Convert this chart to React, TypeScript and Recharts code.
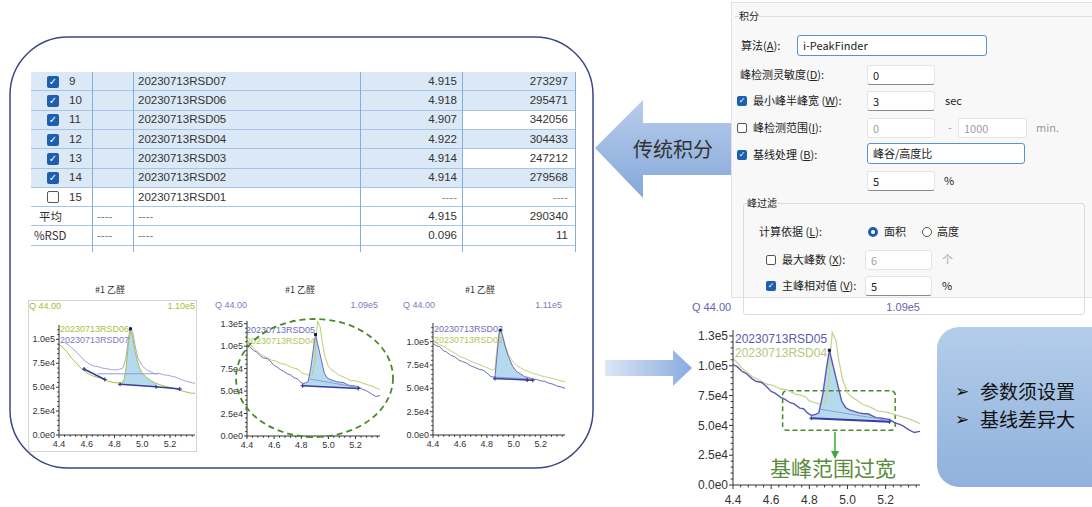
import React from 'react';
import { ComposedChart, Line, Area, XAxis, YAxis, ReferenceArea } from 'recharts';

const FONT = '"Liberation Sans", "Noto Sans CJK SC", sans-serif';
const CJK = '"Noto Sans CJK SC", "Liberation Sans", sans-serif';

// retention time axis ticks (minor every 0.04, labelled every 0.2)
const xTicks = [4.4, 4.44, 4.48, 4.52, 4.56, 4.6, 4.64, 4.68, 4.72, 4.76, 4.8, 4.84, 4.88, 4.92, 4.96, 5.0, 5.04, 5.08, 5.12, 5.16, 5.2, 5.24, 5.28, 5.32, 5.36];
const xLabels = [4.4, 4.6, 4.8, 5.0, 5.2];
const yTicks115 = [0, 5000, 10000, 15000, 20000, 25000, 30000, 35000, 40000, 45000, 50000, 55000, 60000, 65000, 70000, 75000, 80000, 85000, 90000, 95000, 100000, 105000, 110000];
const yTicks120 = [...yTicks115, 115000];
const yTicks130 = [...yTicks120, 120000, 125000];
const yLabels100 = [0, 25000, 50000, 75000, 100000];
const yLabels125 = [0, 25000, 50000, 75000, 100000, 125000];

// chart 1: RSD06 / RSD07
const rt06 = [4.4, 4.43, 4.46, 4.49, 4.52, 4.55, 4.58, 4.61, 4.64, 4.67, 4.7, 4.73, 4.76, 4.79, 4.82, 4.85, 4.87, 4.885, 4.9, 4.915, 4.93, 4.945, 4.96, 4.98, 5.0, 5.03, 5.06, 5.09, 5.12, 5.15, 5.18, 5.21, 5.24, 5.27, 5.3, 5.33, 5.36, 5.38];
const in06 = [95000, 91000, 86500, 80500, 76000, 71000, 67500, 64000, 62000, 60500, 59500, 57500, 56000, 55000, 54500, 54000, 58500, 72000, 95000, 110000, 103000, 90000, 80000, 70000, 64500, 60500, 57000, 54500, 53000, 51500, 50500, 49500, 48500, 47000, 45500, 44500, 43500, 44000];
const rt07 = [4.44, 4.47, 4.5, 4.53, 4.56, 4.59, 4.62, 4.65, 4.68, 4.71, 4.74, 4.77, 4.8, 4.83, 4.86, 4.88, 4.9, 4.913, 4.93, 4.95, 4.97, 5.0, 5.03, 5.06, 5.09, 5.12, 5.15, 5.18, 5.21, 5.24, 5.27, 5.3, 5.33, 5.36, 5.38];
const in07 = [97000, 94000, 90000, 86000, 81500, 77000, 74000, 72000, 71500, 70000, 69500, 68500, 68000, 68500, 70000, 79000, 100000, 113000, 108000, 92000, 80000, 72000, 68500, 66000, 64000, 64500, 63000, 62500, 61500, 60500, 58500, 57000, 55500, 54500, 54000];
const base06aRt = [4.58, 4.73];
const base06aIn = [69000, 58000];
const base06bRt = [4.84, 5.1, 5.27];
const base06bIn = [53000, 50500, 48000];
const base07Rt = [4.68, 5.12];
const base07In = [64000, 64000];
const fill06Rt = [4.85, 4.87, 4.885, 4.9, 4.915, 4.93, 4.945, 4.96, 4.98, 5.0, 5.03, 5.06, 5.09, 5.1];
const fill06Hi = [54000, 58500, 72000, 95000, 110000, 103000, 90000, 80000, 70000, 64500, 60500, 57000, 54500, 53500];
const fill06Lo = [52900, 52700, 52500, 52400, 52200, 52000, 51900, 51700, 51500, 51300, 51000, 50800, 50600, 50500];

// chart 2 and zoomed chart: RSD05 / RSD04
const rt05 = [4.4, 4.42, 4.45, 4.47, 4.5, 4.52, 4.55, 4.57, 4.6, 4.62, 4.65, 4.67, 4.7, 4.72, 4.75, 4.77, 4.79, 4.81, 4.83, 4.85, 4.87, 4.89, 4.905, 4.92, 4.945, 4.97, 4.99, 5.01, 5.04, 5.06, 5.08, 5.11, 5.13, 5.15, 5.18, 5.2, 5.22, 5.25, 5.27, 5.29, 5.32, 5.35, 5.38];
const in05 = [101000, 99500, 95000, 93500, 89000, 87000, 86000, 83500, 78500, 77000, 73500, 72000, 69000, 68000, 64500, 64000, 60500, 58500, 59000, 60500, 75500, 98000, 113000, 103000, 86500, 70000, 65000, 63000, 61500, 60500, 60000, 59500, 58000, 56500, 56000, 55500, 55000, 52000, 51000, 49500, 46500, 44000, 45000];
const rt04 = [4.4, 4.42, 4.44, 4.47, 4.5, 4.52, 4.55, 4.58, 4.6, 4.63, 4.65, 4.68, 4.7, 4.73, 4.75, 4.78, 4.8, 4.83, 4.86, 4.88, 4.9, 4.91, 4.92, 4.94, 4.955, 4.975, 5.0, 5.02, 5.05, 5.08, 5.1, 5.13, 5.16, 5.19, 5.21, 5.24, 5.27, 5.3, 5.33, 5.36, 5.38];
const in04 = [106000, 103000, 99000, 95000, 91000, 89500, 87000, 84500, 84000, 82000, 80500, 80000, 78500, 76000, 75500, 74000, 70500, 69000, 67500, 68000, 82000, 110000, 128000, 121000, 104000, 88000, 77500, 74000, 71000, 67500, 66500, 64500, 62000, 61500, 61000, 59500, 58000, 56500, 55000, 53000, 51500];
const base05Rt = [4.81, 5.22];
const base05In = [56000, 53000];
const base05LightRt = [4.86, 5.2];
const base05LightIn = [63500, 54500];
const fill05Rt = [4.81, 4.83, 4.85, 4.87, 4.89, 4.905, 4.92, 4.945, 4.97, 4.99, 5.01, 5.04, 5.06, 5.08, 5.11, 5.13, 5.15, 5.18, 5.2, 5.22];
const fill05Hi = [58500, 59000, 60500, 75500, 98000, 113000, 103000, 86500, 70000, 65000, 63000, 61500, 60500, 60000, 59500, 58000, 56500, 56000, 55500, 55000];
const fill05Lo = [56000, 55850, 55700, 55550, 55400, 55300, 55150, 55000, 54750, 54600, 54450, 54250, 54100, 53950, 53700, 53550, 53400, 53200, 53050, 53000];

// chart 3: RSD03 / RSD02
const rt03 = [4.4, 4.42, 4.45, 4.48, 4.5, 4.53, 4.56, 4.59, 4.62, 4.65, 4.68, 4.71, 4.74, 4.77, 4.8, 4.83, 4.86, 4.875, 4.89, 4.9, 4.915, 4.935, 4.96, 4.99, 5.02, 5.05, 5.08, 5.11, 5.14, 5.17, 5.2, 5.23, 5.26, 5.29, 5.32, 5.35, 5.38];
const in03 = [98000, 96000, 94500, 90000, 89000, 85500, 84000, 80500, 78500, 77000, 74000, 72500, 70500, 69500, 66500, 62500, 62000, 85000, 108000, 112000, 107000, 95000, 84000, 74000, 68000, 65500, 62500, 61500, 60000, 59500, 58000, 57500, 55500, 54500, 52500, 51500, 50000];
const rt02 = [4.4, 4.42, 4.45, 4.48, 4.51, 4.54, 4.57, 4.6, 4.63, 4.66, 4.69, 4.72, 4.75, 4.78, 4.81, 4.84, 4.86, 4.875, 4.89, 4.9, 4.915, 4.935, 4.96, 4.99, 5.02, 5.05, 5.08, 5.11, 5.14, 5.17, 5.2, 5.23, 5.26, 5.29, 5.32, 5.35, 5.38];
const in02 = [102000, 99000, 96500, 95000, 92000, 89500, 87000, 84000, 82500, 80500, 78500, 77000, 75000, 73500, 71500, 69500, 71000, 92000, 110000, 114000, 108000, 97000, 86000, 79000, 74500, 72000, 69500, 68000, 66000, 65000, 63500, 62500, 61500, 60500, 59500, 58000, 57000];
const base03Rt = [4.86, 5.1, 5.14];
const base03In = [60500, 59000, 58700];
const base03LightRt = [4.87, 5.13];
const base03LightIn = [62000, 60000];
const fill03Rt = [4.86, 4.875, 4.89, 4.9, 4.915, 4.935, 4.96, 4.99, 5.02, 5.05, 5.08, 5.1];
const fill03Hi = [62000, 85000, 108000, 112000, 107000, 95000, 84000, 74000, 68000, 65500, 62500, 62000];
const fill03Lo = [60500, 60400, 60300, 60250, 60150, 60000, 59850, 59650, 59450, 59300, 59100, 59000];

// peak apex
const apex06Rt = [4.915];
const apex06In = [111000];
const apex05Rt = [4.905];
const apex05In = [113000];
const apex03Rt = [4.9];
const apex03In = [112000];

// result table
const rowNo = ['9', '10', '11', '12', '13', '14', '15', '平均', '%RSD'];
const rowName = ['20230713RSD07', '20230713RSD06', '20230713RSD05', '20230713RSD04', '20230713RSD03', '20230713RSD02', '20230713RSD01', '----', '----'];
const rowRt = ['4.915', '4.918', '4.907', '4.922', '4.914', '4.914', '----', '4.915', '0.096'];
const rowArea = ['273297', '295471', '342056', '304433', '247212', '279568', '----', '290340', '11'];

const pts = (xs: number[], ys: number[]) => xs.map((x, i) => ({ x, y: ys[i] }));
const band = (xs: number[], lo: number[], hi: number[]) => xs.map((x, i) => ({ x, r: [lo[i], hi[i]] }));
const isIn = (arr: number[], v: number) => arr.some((m) => Math.abs(m - v) < 1e-6 * Math.max(1, Math.abs(m)));
const fmtY = (v: number) => (v === 0 ? '0.0e0' : v.toExponential(1).replace('+', ''));

const BASE = '#383c9a';
const BASE_LIGHT = '#8e9be0';

interface Trace {
  data: { x: number; y: number }[];
  color: string;
  width: number;
  marks?: boolean;
}

interface ChromProps {
  left: number;
  top: number;
  width: number;
  height: number;
  yAxisWidth: number;
  xAxisHeight: number;
  marginTop: number;
  marginRight: number;
  yMax: number;
  yTicks: number[];
  yLabels: number[];
  fs: number;
  tickLen: number;
  xLabelGap?: number;
  traces: Trace[];
  fill: { x: number; r: number[] }[];
  apex: { x: number; y: number }[];
  children?: React.ReactNode;
}

function Chrom(p: ChromProps) {
  const gap = p.xLabelGap ?? 0;
  const xTick = (t: any) => {
    const v = t.payload.value;
    const major = isIn(xLabels, v);
    const l = major ? p.tickLen : p.tickLen * 0.6;
    return (
      <g>
        <line x1={t.x} x2={t.x} y1={t.y} y2={t.y + l} stroke="#333" />
        {major && (
          <text x={t.x} y={t.y + p.tickLen + p.fs + gap} textAnchor="middle" fontSize={p.fs} fill="#333" fontFamily={FONT}>
            {v.toFixed(1)}
          </text>
        )}
      </g>
    );
  };
  const yTick = (t: any) => {
    const v = t.payload.value;
    const major = isIn(p.yLabels, v);
    const l = major ? p.tickLen : p.tickLen * 0.6;
    return (
      <g>
        <line x1={t.x - l} x2={t.x} y1={t.y} y2={t.y} stroke="#333" />
        {major && (
          <text x={t.x - p.tickLen - 1} y={t.y} dy="0.35em" textAnchor="end" fontSize={p.fs} fill="#333" fontFamily={FONT}>
            {fmtY(v)}
          </text>
        )}
      </g>
    );
  };
  const cross = (color: string) => (d: any) => (
    <path key={`c${d.index}`} d={`M${d.cx - 2},${d.cy}h4M${d.cx},${d.cy - 2}v4`} stroke={color} strokeWidth={1.2} />
  );
  const square = (d: any) => <rect key={`s${d.index}`} x={d.cx - 1.5} y={d.cy - 1.5} width={3} height={3} fill="#1b1b3a" />;
  return (
    <div style={{ position: 'absolute', left: p.left, top: p.top }}>
      <ComposedChart width={p.width} height={p.height} margin={{ top: p.marginTop, right: p.marginRight, bottom: 0, left: 0 }}>
        <XAxis
          type="number"
          dataKey="x"
          domain={[4.4, 5.38]}
          ticks={xTicks}
          interval={0}
          allowDataOverflow
          tickSize={0}
          tickMargin={0}
          tickLine={false}
          axisLine={{ stroke: '#333' }}
          height={p.xAxisHeight}
          tick={xTick}
        />
        <YAxis
          type="number"
          domain={[0, p.yMax]}
          ticks={p.yTicks}
          interval={0}
          allowDataOverflow
          width={p.yAxisWidth}
          tickSize={0}
          tickMargin={0}
          tickLine={false}
          axisLine={{ stroke: '#333' }}
          tick={yTick}
        />
        <Area data={p.fill} dataKey="r" type="linear" stroke="none" fill="#a3d1ea" fillOpacity={0.8} isAnimationActive={false} />
        {p.traces.map((t, i) => (
          <Line
            key={i}
            data={t.data}
            dataKey="y"
            type="linear"
            stroke={t.color}
            strokeWidth={t.width}
            dot={t.marks ? cross(t.color) : false}
            activeDot={false}
            isAnimationActive={false}
          />
        ))}
        <Line data={p.apex} dataKey="y" stroke="none" dot={square} activeDot={false} isAnimationActive={false} />
        {p.children}
      </ComposedChart>
    </div>
  );
}

function T(props: { x: number; y: number; size?: number; color?: string; anchor?: 'left' | 'right' | 'center'; family?: string; bg?: string; children: React.ReactNode }) {
  const size = props.size ?? 11;
  const shift = props.anchor === 'right' ? 'translateX(-100%)' : props.anchor === 'center' ? 'translateX(-50%)' : 'none';
  return (
    <div
      style={{
        position: 'absolute',
        left: props.x,
        top: props.y - size * 0.6,
        fontSize: size,
        lineHeight: `${size * 1.2}px`,
        color: props.color ?? '#222',
        whiteSpace: 'nowrap',
        fontFamily: props.family ?? CJK,
        transform: shift,
        background: props.bg,
      }}
    >
      {props.children}
    </div>
  );
}

function Check({ x, y, on, size = 10 }: { x: number; y: number; on: boolean; size?: number }) {
  return (
    <div
      style={{
        position: 'absolute',
        left: x,
        top: y - size / 2,
        width: size,
        height: size,
        boxSizing: 'border-box',
        borderRadius: 2,
        background: on ? '#1d5fae' : '#fff',
        border: on ? 'none' : '1px solid #555',
        color: '#fff',
        fontSize: size - 2,
        lineHeight: `${size}px`,
        textAlign: 'center',
        fontFamily: '"DejaVu Sans", sans-serif',
      }}
    >
      {on ? '✓' : ''}
    </div>
  );
}

function Inp({ x, y, w, h = 20, text, focus, dim }: { x: number; y: number; w: number; h?: number; text: string; focus?: boolean; dim?: boolean }) {
  return (
    <div
      style={{
        position: 'absolute',
        left: x,
        top: y,
        width: w,
        height: h,
        boxSizing: 'border-box',
        background: '#fff',
        border: focus ? '1px solid #5592d6' : '1px solid #e4e4e4',
        borderBottom: focus ? '1px solid #5592d6' : dim ? '1px solid #e4e4e4' : '1px solid #8a8a8a',
        borderRadius: 3,
        paddingLeft: 5,
        fontSize: 11,
        lineHeight: `${h - 2}px`,
        color: dim ? '#a0a0a0' : '#222',
        fontFamily: CJK,
        whiteSpace: 'nowrap',
      }}
    >
      {text}
    </div>
  );
}

function Radio({ x, y, on }: { x: number; y: number; on: boolean }) {
  return (
    <div
      style={{
        position: 'absolute',
        left: x,
        top: y - 5,
        width: 10,
        height: 10,
        boxSizing: 'border-box',
        borderRadius: '50%',
        border: on ? '3px solid #1d5fae' : '1px solid #555',
        background: '#fff',
      }}
    />
  );
}

function Panel() {
  const bg = '#f8f8f8';
  return (
    <>
      <div style={{ position: 'absolute', left: 731, top: 2, width: 370, height: 296, background: bg, border: '1px solid #e2e2e2', boxSizing: 'border-box' }} />
      <div style={{ position: 'absolute', left: 735, top: 16, width: 357, height: 1, background: '#dcdcdc' }} />
      <T x={739} y={16} size={10} bg={bg}>积分</T>
      <T x={741} y={46}>算法(<u>A</u>):</T>
      <Inp x={797} y={35} w={190} h={21} text="i-PeakFinder" focus />
      <T x={740} y={75}>峰检测灵敏度(<u>D</u>):</T>
      <Inp x={867} y={65} w={68} text="0" />
      <Check x={737} y={101} on />
      <T x={753} y={101}>最小峰半峰宽 (<u>W</u>):</T>
      <Inp x={867} y={91} w={68} text="3" />
      <T x={945} y={101}>sec</T>
      <Check x={737} y={128} on={false} />
      <T x={753} y={128}>峰检测范围(<u>I</u>):</T>
      <Inp x={867} y={118} w={68} text="0" dim />
      <T x={948} y={128} color="#999">-</T>
      <Inp x={958} y={118} w={69} text="1000" dim />
      <T x={1036} y={128} color="#999">min.</T>
      <Check x={737} y={155} on />
      <T x={753} y={155}>基线处理 (<u>B</u>):</T>
      <Inp x={867} y={143} w={158} h={21} text="峰谷/高度比" focus />
      <Inp x={867} y={171} w={68} text="5" />
      <T x={944} y={181}>%</T>
      <div style={{ position: 'absolute', left: 743, top: 203, width: 340, height: 110, border: '1px solid #dcdcdc', borderRadius: 3 }} />
      <T x={747} y={203} size={10} bg={bg}>峰过滤</T>
      <T x={759} y={232}>计算依据 (<u>L</u>):</T>
      <Radio x={868} y={232} on />
      <T x={884} y={232}>面积</T>
      <Radio x={922} y={232} on={false} />
      <T x={937} y={232}>高度</T>
      <Check x={766} y={260} on={false} />
      <T x={782} y={260}>最大峰数 (<u>X</u>):</T>
      <Inp x={865} y={250} w={67} text="6" dim />
      <T x={942} y={260} color="#aaa">个</T>
      <Check x={766} y={286} on />
      <T x={782} y={286}>主峰相对值 (<u>V</u>):</T>
      <Inp x={865} y={276} w={67} text="5" />
      <T x={942} y={286}>%</T>
    </>
  );
}

function Table() {
  const top = 72;
  const rh = 19.3;
  const cols = [92, 133, 360, 462, 575];
  const fs = 11.5;
  return (
    <>
      {rowNo.map((no, i) => {
        const y = top + i * rh;
        const checked = i < 6;
        const cy = y + rh / 2;
        const lastBlue = checked && i !== 2 && i !== 4;
        return (
          <React.Fragment key={no}>
            {checked && <div style={{ position: 'absolute', left: 31, top: y, width: cols[3] - 31, height: rh, background: '#dbe8f6' }} />}
            {lastBlue && <div style={{ position: 'absolute', left: cols[3], top: y, width: cols[4] - cols[3], height: rh, background: '#dbe8f6' }} />}
            <div style={{ position: 'absolute', left: 31, top: y + rh - 1, width: cols[4] - 31, height: 1, background: '#a6c4e8' }} />
            {i < 7 ? (
              <>
                <Check x={47} y={cy} on={checked} size={12} />
                <T x={69} y={cy} size={fs} color="#333" family={FONT}>{no}</T>
              </>
            ) : (
              <>
                <T x={i === 7 ? 39 : 34} y={cy} size={fs} color="#333">{no}</T>
                <T x={97} y={cy} size={fs} color="#777" family={FONT}>----</T>
              </>
            )}
            <T x={138} y={cy} size={fs} color={i > 6 ? '#777' : '#333'} family={FONT}>{rowName[i]}</T>
            <T x={457} y={cy} size={fs} color={i === 6 ? '#888' : '#333'} anchor="right" family={FONT}>{rowRt[i]}</T>
            <T x={568} y={cy} size={fs} color={i === 6 ? '#888' : '#333'} anchor="right" family={FONT}>{rowArea[i]}</T>
          </React.Fragment>
        );
      })}
      {cols.map((c) => (
        <div key={c} style={{ position: 'absolute', left: c, top, width: 1, height: 180, background: '#86acd9' }} />
      ))}
    </>
  );
}

function Overlay() {
  return (
    <svg width={1092} height={507} style={{ position: 'absolute', left: 0, top: 0, pointerEvents: 'none' }}>
      <defs>
        <linearGradient id="gArrow" x1="0" y1="0" x2="0" y2="1">
          <stop offset="0" stopColor="#b7cdeb" />
          <stop offset="1" stopColor="#85a8d9" />
        </linearGradient>
        <linearGradient id="gArrow2" x1="0" y1="0" x2="1" y2="0">
          <stop offset="0" stopColor="#dce6f5" />
          <stop offset="1" stopColor="#88abdf" />
        </linearGradient>
      </defs>
      <rect x={10} y={37} width={583} height={431} rx={58} ry={58} fill="none" stroke="#3b4687" strokeWidth={1.5} />
      <path d="M595,148 L643,100 L643,123 L731,123 L731,175 L643,175 L643,198 Z" fill="url(#gArrow)" />
      <path d="M605,360 L673,360 L673,350 L692,368 L673,386 L673,376 L605,376 Z" fill="url(#gArrow2)" />
      <ellipse cx={314.5} cy={378} rx={78.5} ry={59} fill="none" stroke="#4a8a2a" strokeWidth={1.8} strokeDasharray="6 4" />
      <line x1={835} y1={432} x2={835} y2={452} stroke="#3aaa35" strokeWidth={1.5} />
      <path d="M831,451 L839,451 L835,459 Z" fill="#3aaa35" />
    </svg>
  );
}

export default function App() {
  const green06 = '#a9c13c';
  const purple07 = '#a7a4d9';
  const purple05 = '#6c6cbd';
  const green04 = '#bccf6a';
  const purple03 = '#6f6dbd';
  const green02 = '#c2d27a';
  return (
    <div style={{ position: 'absolute', left: 0, top: 0, width: 1092, height: 507, overflow: 'hidden', background: '#fff', fontFamily: FONT }}>
      <Table />
      <Panel />

      {/* small chart 1 */}
      <div style={{ position: 'absolute', left: 28, top: 300, width: 169, height: 152, border: '1px solid #d4d4d4', boxSizing: 'border-box' }} />
      <T x={110} y={290} size={9} anchor="center" color="#333">#1 乙醛</T>
      <T x={29} y={306} size={9} color="#9fbd3a" family={FONT}>Q 44.00</T>
      <T x={195} y={306} size={9} color="#9fbd3a" anchor="right" family={FONT}>1.10e5</T>
      <Chrom
        left={28}
        top={300}
        width={170}
        height={155}
        yAxisWidth={31}
        xAxisHeight={20}
        marginTop={25}
        marginRight={3}
        yMax={115000}
        yTicks={yTicks115}
        yLabels={yLabels100}
        fs={9}
        tickLen={3}
        fill={band(fill06Rt, fill06Lo, fill06Hi)}
        apex={pts(apex06Rt, apex06In)}
        traces={[
          { data: pts(rt07, in07), color: purple07, width: 1 },
          { data: pts(rt06, in06), color: green06, width: 1 },
          { data: pts(base07Rt, base07In), color: BASE_LIGHT, width: 1 },
          { data: pts(base06aRt, base06aIn), color: BASE, width: 1.5, marks: true },
          { data: pts(base06bRt, base06bIn), color: BASE, width: 1.5, marks: true },
        ]}
      />
      <T x={60} y={329} size={9} color={green06} family={FONT}>20230713RSD06</T>
      <T x={60} y={340} size={9} color="#7d79c4" family={FONT}>20230713RSD07</T>

      {/* small chart 2 */}
      <T x={300} y={290} size={9} anchor="center" color="#333">#1 乙醛</T>
      <T x={215} y={305} size={9} color="#7b7bbd" family={FONT}>Q 44.00</T>
      <T x={378} y={305} size={9} color="#7b7bbd" anchor="right" family={FONT}>1.09e5</T>
      <Chrom
        left={215}
        top={300}
        width={170}
        height={155}
        yAxisWidth={32}
        xAxisHeight={19}
        marginTop={21}
        marginRight={5}
        yMax={128000}
        yTicks={yTicks130}
        yLabels={yLabels125}
        fs={9}
        tickLen={3}
        fill={band(fill05Rt, fill05Lo, fill05Hi)}
        apex={pts(apex05Rt, apex05In)}
        traces={[
          { data: pts(rt04, in04), color: green04, width: 1 },
          { data: pts(rt05, in05), color: purple05, width: 1 },
          { data: pts(base05LightRt, base05LightIn), color: BASE_LIGHT, width: 1 },
          { data: pts(base05Rt, base05In), color: BASE, width: 1.5, marks: true },
        ]}
      />
      <T x={246} y={330} size={9} color={purple05} family={FONT}>20230713RSD05</T>
      <T x={246} y={341} size={9} color="#b2c65a" family={FONT}>20230713RSD04</T>

      {/* small chart 3 */}
      <T x={480} y={290} size={9} anchor="center" color="#333">#1 乙醛</T>
      <T x={403} y={305} size={9} color="#7b7bbd" family={FONT}>Q 44.00</T>
      <T x={562} y={305} size={9} color="#7b7bbd" anchor="right" family={FONT}>1.11e5</T>
      <Chrom
        left={400}
        top={300}
        width={170}
        height={155}
        yAxisWidth={33}
        xAxisHeight={20}
        marginTop={23}
        marginRight={5}
        yMax={120000}
        yTicks={yTicks120}
        yLabels={yLabels100}
        fs={9}
        tickLen={3}
        fill={band(fill03Rt, fill03Lo, fill03Hi)}
        apex={pts(apex03Rt, apex03In)}
        traces={[
          { data: pts(rt02, in02), color: green02, width: 1 },
          { data: pts(rt03, in03), color: purple03, width: 1 },
          { data: pts(base03LightRt, base03LightIn), color: BASE_LIGHT, width: 1 },
          { data: pts(base03Rt, base03In), color: BASE, width: 1.5, marks: true },
        ]}
      />
      <T x={434} y={329} size={9} color={purple03} family={FONT}>20230713RSD03</T>
      <T x={434} y={340} size={9} color="#b2c65a" family={FONT}>20230713RSD02</T>

      {/* zoomed chart */}
      <T x={692} y={308} size={11} color="#6464b0" family={FONT}>Q 44.00</T>
      <T x={920} y={308} size={11} color="#6464b0" anchor="right" family={FONT}>1.09e5</T>
      <Chrom
        left={690}
        top={322}
        width={235}
        height={185}
        yAxisWidth={43}
        xAxisHeight={22}
        marginTop={8}
        marginRight={5}
        yMax={130000}
        yTicks={yTicks130}
        yLabels={yLabels125}
        fs={12}
        tickLen={4}
        xLabelGap={3}
        fill={band(fill05Rt, fill05Lo, fill05Hi)}
        apex={pts(apex05Rt, apex05In)}
        traces={[
          { data: pts(rt04, in04), color: '#c7d594', width: 1.3 },
          { data: pts(rt05, in05), color: '#5a5aae', width: 1.4 },
          { data: pts(base05LightRt, base05LightIn), color: BASE_LIGHT, width: 1 },
          { data: pts(base05Rt, base05In), color: BASE, width: 2, marks: true },
        ]}
      >
        <ReferenceArea x1={4.66} x2={5.25} y1={46000} y2={79000} fill="none" stroke="#4a8a2a" strokeWidth={1.5} strokeDasharray="5 3" radius={4} ifOverflow="visible" />
      </Chrom>
      <T x={735} y={339} size={12} color="#5a5aae" family={FONT}>20230713RSD05</T>
      <T x={735} y={353} size={12} color="#b5c77a" family={FONT}>20230713RSD04</T>
      <T x={770} y={468} size={21} color="#5b8b3d">基峰范围过宽</T>

      {/* note box */}
      <div
        style={{
          position: 'absolute',
          left: 937,
          top: 327,
          width: 180,
          height: 160,
          borderRadius: 22,
          background: 'linear-gradient(#b4cdea, #8fb1dc)',
        }}
      />
      <T x={955} y={391} size={17} color="#111" family='"DejaVu Sans", sans-serif'>➢</T>
      <T x={980} y={391} size={19} color="#111">参数须设置</T>
      <T x={955} y={419} size={17} color="#111" family='"DejaVu Sans", sans-serif'>➢</T>
      <T x={980} y={419} size={19} color="#111">基线差异大</T>

      <Overlay />
      <T x={633} y={149} size={20} color="#333">传统积分</T>
    </div>
  );
}
